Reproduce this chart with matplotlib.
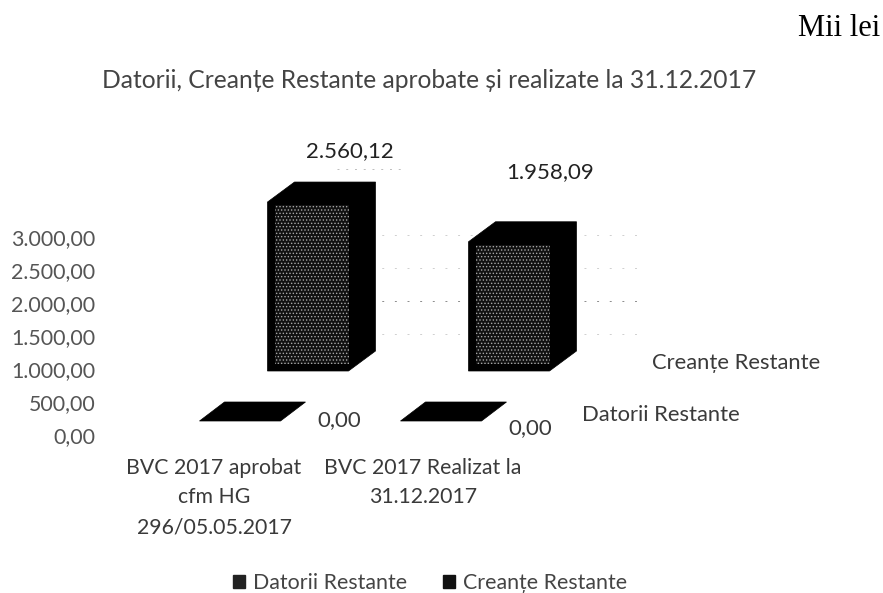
import matplotlib
matplotlib.use("Agg")
import matplotlib.pyplot as plt
from matplotlib.patches import Polygon, Patch
from matplotlib.transforms import ScaledTranslation

categories = ["BVC 2017 aprobat\ncfm HG\n296/05.05.2017", "BVC 2017 Realizat la\n31.12.2017"]
datorii = [0.00, 0.00]
creante = [2560.12, 1958.09]
datorii_labels = ["0,00", "0,00"]
creante_labels = ["2.560,12", "1.958,09"]
y_ticks = [0, 500, 1000, 1500, 2000, 2500, 3000]
y_labels = ["0,00", "500,00", "1.000,00", "1.500,00", "2.000,00", "2.500,00", "3.000,00"]
wall_lines = [500, 1000, 1500, 2000]

plt.rcParams["font.family"] = ["Lato", "DejaVu Sans"]
plt.rcParams["hatch.linewidth"] = 0.6

W, H = 883, 593
fig = plt.figure(figsize=(W / 100, H / 100), dpi=100)
# axes placed so 0 sits at y=437px and 3000 at y=239px
left, right = 96, 660
ax = fig.add_axes([left / W, 1 - 437 / H, (right - left) / W, 198 / H])
ax.set_ylim(0, 3000)
# category 0 at x=240px, category 1 at x=441px
px_x = 201.0
ax.set_xlim((left - 240) / px_x, (right - 240) / px_x)
px_y = 198 / 3000


def dx(p):
    return p / px_x


def dy(p):
    return p / px_y


def box(x, val, base, width, dep_x, dep_y, texture=False):
    x0, x1 = x - width / 2, x + width / 2
    y0, y1 = base, base + val
    ax.add_patch(Polygon([(x0, y0), (x1, y0), (x1 + dep_x, y0 + dep_y), (x1 + dep_x, y1 + dep_y),
                          (x0 + dep_x, y1 + dep_y), (x0, y1)], closed=True, fc="black", ec="black", lw=0.5,
                         zorder=3, clip_on=False))
    if texture:
        m = dx(7)
        ax.add_patch(Polygon([(x0 + m, y0 + dy(7)), (x1, y0 + dy(7)), (x1, y1 - dy(3)), (x0 + m, y1 - dy(3))],
                             closed=True, fc="#111111", ec="#a8a8a8", hatch=".....", lw=0, zorder=4, clip_on=False))


# dotted lines on the back wall, the scan lost most of them
for v in wall_lines:
    col = "#8c8c8c" if v == 1000 else "#cfcfcf"
    ax.plot([dx(28), dx(400)], [v + dy(70)] * 2, color=col, lw=0.7, ls=(0, (2, 11)), zorder=1, clip_on=False)
ax.plot([dx(337 - 240), dx(405 - 240)], [3000 + dy(70)] * 2, color="#bdbdbd", lw=0.7, ls=(0, (2, 7)), zorder=1, clip_on=False)

for i in range(2):
    box(i, datorii[i], dy(16), dx(81), dx(25), dy(19))
    box(i + dx(68), creante[i], dy(66), dx(81), dx(27), dy(20), texture=True)

grey = "#3a3a3a"
ax.text(dx(350 - 240), dy(437 - 151), creante_labels[0], fontsize=16, color="#222222", ha="center", va="center", clip_on=False)
ax.text(dx(550 - 240), dy(437 - 172), creante_labels[1], fontsize=16, color="#222222", ha="center", va="center", clip_on=False)
ax.text(dx(339 - 240), dy(437 - 420), datorii_labels[0], fontsize=16, color=grey, ha="center", va="center")
ax.text(dx(530 - 240), dy(437 - 428), datorii_labels[1], fontsize=16, color=grey, ha="center", va="center")
ax.text(dx(820 - 240), dy(437 - 363), "Creanțe Restante", fontsize=15.8, color=grey, ha="right", va="center", clip_on=False)
ax.text(dx(740 - 240), dy(437 - 415), "Datorii Restante", fontsize=15.8, color=grey, ha="right", va="center", clip_on=False)

for s in ax.spines.values():
    s.set_visible(False)
ax.set_yticks(y_ticks)
ax.set_yticklabels(y_labels, fontsize=15.4, color="#555555")
ax.set_xticks([dx(214 - 240), dx(423 - 240)])
ax.set_xticklabels(categories, fontsize=15.3, color=grey, linespacing=1.6)
ax.tick_params(length=0)
ax.tick_params(axis="x", pad=15)
ax.tick_params(axis="y", pad=0.5)
for lab in ax.get_yticklabels():
    lab.set_transform(lab.get_transform() + ScaledTranslation(0, 2 / 100, fig.dpi_scale_trans))

fig.text(102 / W, 1 - 80 / H, "Datorii, Creanțe Restante aprobate și realizate la 31.12.2017",
         fontsize=17.7, color="#444444", va="center", ha="left")
fig.text(880 / W, 1 - 28 / H, "Mii lei", family="Liberation Serif", fontsize=22, color="black", ha="right", va="center")

handles = [Patch(fc="#222222", ec="#222222", label="Datorii Restante"),
           Patch(fc="#111111", ec="#111111", label="Creanțe Restante")]
fig.legend(handles=handles, ncol=2, frameon=False, loc="center", bbox_to_anchor=(430 / W, 1 - 583 / H),
           fontsize=15.4, labelcolor="#444444", handlelength=0.6, handleheight=0.6, handletextpad=0.37, columnspacing=1.64)

fig.savefig("out.png", dpi=100)
